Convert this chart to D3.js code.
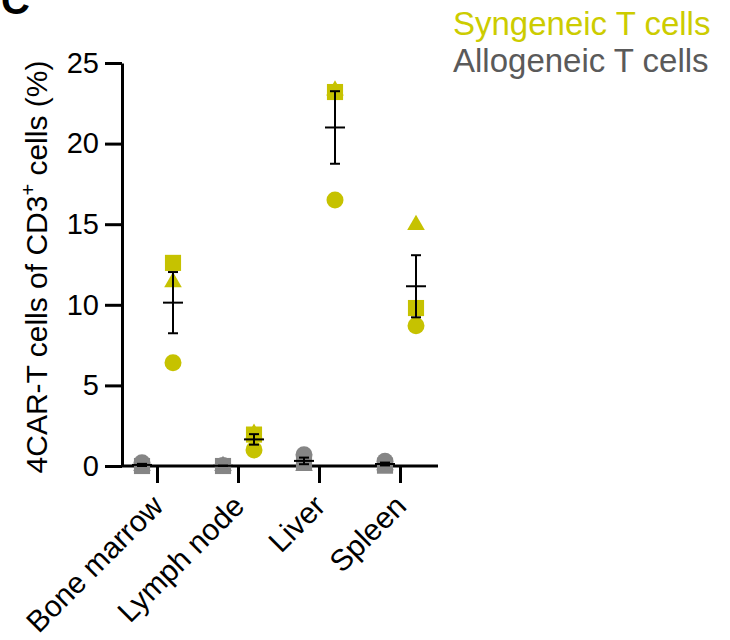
<!DOCTYPE html>
<html>
<head>
<meta charset="utf-8">
<script src="https://cdn.jsdelivr.net/npm/d3@7"></script>
<style>
  body { margin: 0; background: #fff; }
  svg text { font-family: "Liberation Sans", Arial, sans-serif; }
</style>
</head>
<body>
<div id="chart"></div>
<script>
// organs and per-mouse values (3 mice: circle, square, triangle)
const organs = ["Bone marrow", "Lymph node", "Liver", "Spleen"];

const synCircle = [6.4, 1.0, 16.5, 8.7];
const synSquare = [12.6, 1.95, 23.2, 9.8];
const synTriangle = [11.4, 2.0, 23.3, 14.95];

const alloCircle = [0.2, 0.03, 0.7, 0.3];
const alloSquare = [0.0, 0.0, 0.25, 0.02];
const alloTriangle = [0.0, 0.01, 0.0, 0.05];

const yTicks = [0, 5, 10, 15, 20, 25];

const seriesNames = ["Syngeneic T cells", "Allogeneic T cells"];

const synColor = "#c6c200";
const alloColor = "#858585";

const svgWidth = 730;
const svgHeight = 640;

const svg = d3.select("#chart")
    .append("svg")
    .attr("width", svgWidth)
    .attr("height", svgHeight);

// scales
const x = d3.scalePoint()
    .domain(organs)
    .range([157, 400]);

const y = d3.scaleLinear()
    .domain([0, 25])
    .range([466, 63]);

// y axis
const yAxis = svg.append("g")
    .attr("transform", "translate(122,0)")
    .call(d3.axisLeft(y)
        .tickValues(yTicks)
        .tickSize(17)
        .tickSizeOuter(0)
        .tickPadding(6));

yAxis.selectAll("path, line")
    .attr("stroke", "#000")
    .attr("stroke-width", 3);

yAxis.selectAll("text")
    .attr("font-size", 29)
    .attr("fill", "#000")
    .attr("font-family", "Liberation Sans, Arial, sans-serif");

// x axis
const xAxis = svg.append("g")
    .attr("transform", "translate(0,466)")
    .call(d3.axisBottom(x)
        .tickSize(17)
        .tickSizeOuter(0)
        .tickFormat(""));

xAxis.select(".domain").remove();
xAxis.selectAll("line")
    .attr("stroke", "#000")
    .attr("stroke-width", 3);

xAxis.append("line")
    .attr("x1", 122)
    .attr("x2", 438)
    .attr("y1", 0)
    .attr("y2", 0)
    .attr("stroke", "#000")
    .attr("stroke-width", 3);

// rotated category labels
svg.append("g")
    .selectAll("text")
    .data(organs)
    .enter()
    .append("text")
    .attr("transform", d => `translate(${x(d) + 8},508) rotate(-45)`)
    .attr("text-anchor", "end")
    .attr("font-size", 30)
    .attr("fill", "#000")
    .text(d => d);

// y label
const yLabel = svg.append("text")
    .attr("transform", "translate(47,267) rotate(-90)")
    .attr("text-anchor", "middle")
    .attr("font-size", 30)
    .attr("fill", "#000");

yLabel.append("tspan").text("4CAR-T cells of CD3");
yLabel.append("tspan").attr("dy", -12).attr("font-size", 20).text("+");
yLabel.append("tspan").attr("dy", 12).text(" cells (%)");

// panel letter (cut off at the top, as in the figure)
svg.append("text")
    .attr("x", 1)
    .attr("y", 14)
    .attr("font-size", 40)
    .attr("font-weight", "bold")
    .attr("fill", "#000")
    .text("C");

// points and mean +/- SEM
const groups = [
    { name: seriesNames[0], color: synColor, dx: 16, vals: [synCircle, synSquare, synTriangle] },
    { name: seriesNames[1], color: alloColor, dx: -15, vals: [alloCircle, alloSquare, alloTriangle] }
];

const shapes = [
    d3.symbol().type(d3.symbolCircle).size(227),
    d3.symbol().type(d3.symbolSquare).size(260),
    d3.symbol().type(d3.symbolTriangle).size(135)
];

const pointLayer = svg.append("g");
const errLayer = svg.append("g");

groups.forEach(function(grp) {
    // draw triangle first, then square, then circle
    [2, 1, 0].forEach(function(s) {
        pointLayer.selectAll(null)
            .data(organs)
            .enter()
            .append("path")
            .attr("d", shapes[s])
            .attr("transform", (d, i) => `translate(${x(d) + grp.dx},${y(grp.vals[s][i])})`)
            .attr("fill", grp.color);
    });

    organs.forEach(function(organ, i) {
        const v = grp.vals.map(a => a[i]);
        const m = d3.mean(v);
        const sem = d3.deviation(v) / Math.sqrt(v.length);
        const cx = x(organ) + grp.dx;

        const g = errLayer.append("g")
            .attr("stroke", "#000")
            .attr("stroke-width", 2);

        g.append("line")
            .attr("x1", cx).attr("x2", cx)
            .attr("y1", y(m + sem)).attr("y2", y(m - sem));
        g.append("line")
            .attr("x1", cx - 10).attr("x2", cx + 10)
            .attr("y1", y(m)).attr("y2", y(m));
        [m + sem, m - sem].forEach(function(e) {
            g.append("line")
                .attr("x1", cx - 5).attr("x2", cx + 5)
                .attr("y1", y(e)).attr("y2", y(e));
        });
    });
});

// legend
svg.append("g")
    .selectAll("text")
    .data(groups)
    .enter()
    .append("text")
    .attr("x", 453)
    .attr("y", (d, i) => 35 + i * 37)
    .attr("font-size", 33)
    .attr("fill", (d, i) => i === 0 ? "#cccc00" : "#5a5a5a")
    .text(d => d.name);
</script>
</body>
</html>
